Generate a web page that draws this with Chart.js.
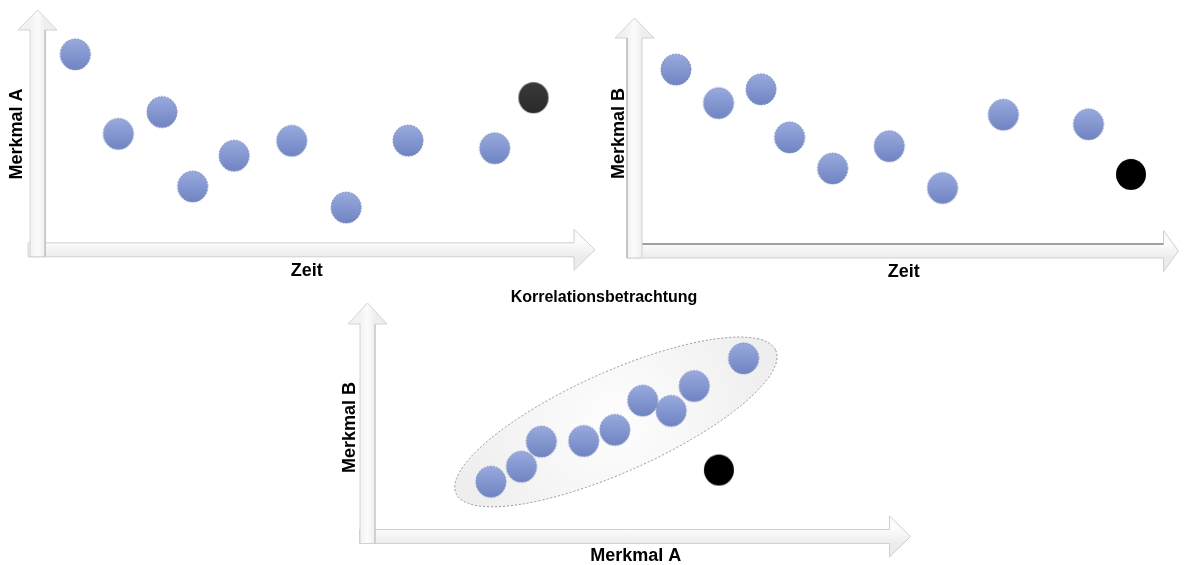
<!DOCTYPE html>
<html>
<head>
<meta charset="utf-8">
<script src="https://cdn.jsdelivr.net/npm/chart.js@4.4.1/dist/chart.umd.min.js"></script>
<style>
html,body{margin:0;padding:0;background:#fff;overflow:hidden;width:1189px;height:565px;}
.box{position:absolute;}
</style>
</head>
<body>
<div class="box" style="left:0;top:0;width:600px;height:290px"><canvas id="c1"></canvas></div>
<div class="box" style="left:600px;top:0;width:589px;height:290px"><canvas id="c2"></canvas></div>
<div class="box" style="left:300px;top:284px;width:620px;height:290px"><canvas id="c3"></canvas></div>
<script>
// ---------- data (arbitrary units 0..10) ----------
// Chart 1: Merkmal A over time
const zeit1      = [0.70, 1.50, 2.31, 2.88, 3.65, 4.72, 5.73, 6.88, 8.49];
const merkmalA   = [8.43, 5.00, 5.94, 2.73, 4.06, 4.70, 1.82, 4.71, 4.38];
const zeit1Neu   = [9.21];
const merkmalANeu= [6.56];
// Chart 2: Merkmal B over time
const zeit2      = [0.77, 1.56, 2.35, 2.88, 3.68, 4.73, 5.72, 6.85, 8.43];
const merkmalB   = [7.72, 6.29, 6.88, 4.83, 3.51, 4.46, 2.68, 5.80, 5.39];
const zeit2Neu   = [9.22];
const merkmalBNeu= [3.26];
// Chart 3: correlation Merkmal A vs Merkmal B
const korrA      = [2.30, 2.87, 3.24, 4.03, 4.61, 5.13, 5.66, 6.09, 7.01];
const korrB      = [2.51, 3.20, 4.35, 4.38, 4.89, 6.23, 5.76, 6.90, 8.17];
const korrANeu   = [6.55];
const korrBNeu   = [3.05];
// ellipse enclosing the correlated cloud (major axis end points, data units)
const ellipseA   = [1.65, 7.61];
const ellipseB   = [1.97, 8.54];

const axisTitles = {zeit:'Zeit', a:'Merkmal A', b:'Merkmal B', korr:'Korrelationsbetrachtung'};

// ---------- helpers ----------
const FAMILY = "'Liberation Sans', Arial, Helvetica, sans-serif";
const labelFont = {family: FAMILY, size: 18, weight: 'bold', lineHeight: 1.2};

function makeDot(top, bottom, stroke, dashed){
  const c = document.createElement('canvas');
  c.width = 34; c.height = 35;
  const g = c.getContext('2d');
  const grad = g.createLinearGradient(0, 2, 0, 33);
  grad.addColorStop(0, top); grad.addColorStop(1, bottom);
  g.beginPath(); g.ellipse(17, 17.5, 15, 15.5, 0, 0, Math.PI*2);
  g.fillStyle = grad; g.fill();
  if (stroke){
    g.setLineDash(dashed ? [1.6, 1.6] : []);
    g.lineWidth = 1; g.strokeStyle = stroke; g.stroke();
  }
  return c;
}
const blueDot  = makeDot('#98aadd', '#7084c3', '#6a7ab0', true);
const grayDot  = makeDot('#3a3a3a', '#2a2a2a', null, false);
const blackDot = makeDot('#000000', '#000000', null, false);

function pts(xs, ys){ return xs.map((x, i) => ({x: x, y: ys[i]})); }

const arrowPlugin = {
  id: 'blockArrows',
  beforeDatasetsDraw(chart, args, o){
    if (!o || !o.on) return;
    const ctx = chart.ctx, a = chart.chartArea;
    const cx = a.left, cy = a.bottom;
    const sh = 7.5, hw = 19.5, hh = 20.5;
    ctx.save();
    // horizontal arrow
    const x0 = cx - o.hStart, xb = a.right + o.hBase, xt = a.right + o.hTip;
    ctx.beginPath();
    ctx.moveTo(x0, cy - 7); ctx.lineTo(xb, cy - 7); ctx.lineTo(xb, cy - hh);
    ctx.lineTo(xt, cy); ctx.lineTo(xb, cy + hh); ctx.lineTo(xb, cy + 7);
    ctx.lineTo(x0, cy + 7); ctx.closePath();
    let g = ctx.createLinearGradient(0, cy - 7, 0, cy + 7);
    g.addColorStop(0, '#fbfbfb'); g.addColorStop(1, '#ececec');
    ctx.fillStyle = g; ctx.fill();
    ctx.lineWidth = 1; ctx.strokeStyle = '#cfcfcf'; ctx.stroke();
    if (o.hTopLine){
      ctx.beginPath(); ctx.moveTo(cx + sh, cy - 7); ctx.lineTo(xb, cy - 7);
      ctx.strokeStyle = o.hTopLine; ctx.stroke();
    }
    // vertical arrow
    const yb = a.top + o.vBase, yt = a.top + o.vTip, y0 = cy + 7;
    ctx.beginPath();
    ctx.moveTo(cx - sh, y0); ctx.lineTo(cx - sh, yb); ctx.lineTo(cx - hw, yb);
    ctx.lineTo(cx, yt); ctx.lineTo(cx + hw, yb); ctx.lineTo(cx + sh, yb);
    ctx.lineTo(cx + sh, y0); ctx.closePath();
    g = ctx.createLinearGradient(cx - sh, 0, cx + sh, 0);
    g.addColorStop(0, '#f2f2f2'); g.addColorStop(0.5, '#fbfbfb'); g.addColorStop(1, '#eeeeee');
    ctx.fillStyle = g; ctx.fill();
    ctx.strokeStyle = '#d2d2d2'; ctx.stroke();
    if (o.vEdge){
      ctx.beginPath();
      const ex = o.vEdgeSide === 'left' ? cx - sh : cx + sh;
      ctx.moveTo(ex, y0); ctx.lineTo(ex, yb);
      ctx.strokeStyle = o.vEdge; ctx.stroke();
    }
    // enclosing ellipse (correlation chart)
    if (o.ellipse){
      const xs = chart.scales.x, ys = chart.scales.y;
      const p1x = xs.getPixelForValue(o.ellipse.xs[0]), p1y = ys.getPixelForValue(o.ellipse.ys[0]);
      const p2x = xs.getPixelForValue(o.ellipse.xs[1]), p2y = ys.getPixelForValue(o.ellipse.ys[1]);
      const mx = (p1x + p2x)/2, my = (p1y + p2y)/2;
      const rx = Math.hypot(p2x - p1x, p2y - p1y)/2;
      const ang = Math.atan2(p2y - p1y, p2x - p1x);
      ctx.beginPath();
      ctx.ellipse(mx, my, rx, o.ellipse.minor, ang, 0, Math.PI*2);
      const eg = ctx.createRadialGradient(mx, my, 10, mx, my, rx);
      eg.addColorStop(0, '#fdfdfd'); eg.addColorStop(1, '#ededed');
      ctx.fillStyle = eg; ctx.fill();
      ctx.setLineDash([2, 2]); ctx.lineWidth = 0.9; ctx.strokeStyle = '#8a8a8a'; ctx.stroke();
      ctx.setLineDash([]);
    }
    ctx.restore();
  }
};
Chart.register(arrowPlugin);

function makeChart(id, cfg){
  return new Chart(document.getElementById(id), {
    type: 'scatter',
    data: {datasets: [
      {data: pts(cfg.xs, cfg.ys), pointStyle: blueDot, pointRadius: 15, clip: false},
      {data: pts(cfg.nx, cfg.ny), pointStyle: cfg.outDot, pointRadius: 15, clip: false}
    ]},
    options: {
      responsive: true, maintainAspectRatio: false, animation: false, events: [],
      layout: {padding: cfg.padding},
      plugins: {
        legend: {display: false}, tooltip: {enabled: false},
        title: cfg.title || {display: false},
        blockArrows: cfg.arrows
      },
      scales: {
        x: {type: 'linear', min: 0, max: 10,
            grid: {display: false, drawTicks: false}, border: {display: false}, ticks: {display: false},
            title: {display: true, text: cfg.xTitle, color: '#000', font: labelFont, padding: cfg.xPad}},
        y: {type: 'linear', position: 'left', min: 0, max: 10,
            grid: {display: false, drawTicks: false}, border: {display: false}, ticks: {display: false},
            title: {display: true, text: cfg.yTitle, color: '#000', font: labelFont, padding: cfg.yPad}}
      }
    }
  });
}

makeChart('c1', {
  xs: zeit1, ys: merkmalA, nx: zeit1Neu, ny: merkmalANeu, outDot: grayDot,
  xTitle: axisTitles.zeit, yTitle: axisTitles.a,
  padding: {left: 4, right: 24, top: 18, bottom: 4.4},
  xPad: {top: 10.2, bottom: 4}, yPad: {top: 2, bottom: 10},
  arrows: {on: true, hStart: 9.5, hBase: -2, hTip: 19, vBase: 12, vTip: -8, vEdge: '#b4b4b4', vEdgeSide: 'right'}
});

makeChart('c2', {
  xs: zeit2, ys: merkmalB, nx: zeit2Neu, ny: merkmalBNeu, outDot: blackDot,
  xTitle: axisTitles.zeit, yTitle: axisTitles.b,
  padding: {left: 6.7, right: 6.5, top: 11, bottom: 3.2},
  xPad: {top: 10.2, bottom: 4}, yPad: {top: 2, bottom: 4.2},
  arrows: {on: true, hStart: 7.5, hBase: -9.5, hTip: 5.5, vBase: 22, vTip: 2, hTopLine: '#5a5a5a', vEdge: '#a8a8a8', vEdgeSide: 'left'}
});

makeChart('c3', {
  xs: korrA, ys: korrB, nx: korrANeu, ny: korrBNeu, outDot: blackDot,
  xTitle: axisTitles.a, yTitle: axisTitles.b,
  padding: {left: 1.5, right: 13.5, top: 0, bottom: 2.7},
  xPad: {top: 9.2, bottom: 4}, yPad: {top: 37.7, bottom: 6.7},
  title: {display: true, text: axisTitles.korr, color: '#000',
          font: {family: FAMILY, size: 16, weight: 'bold', lineHeight: 1.2},
          padding: {top: 4, bottom: 11.3}},
  arrows: {on: true, hStart: 8, hBase: -14.5, hTip: 6.5, vBase: 5.5, vTip: -15.5, vEdge: '#c0c0c0', vEdgeSide: 'right',
           ellipse: {xs: ellipseA, ys: ellipseB, minor: 50}}
});
</script>
</body>
</html>
